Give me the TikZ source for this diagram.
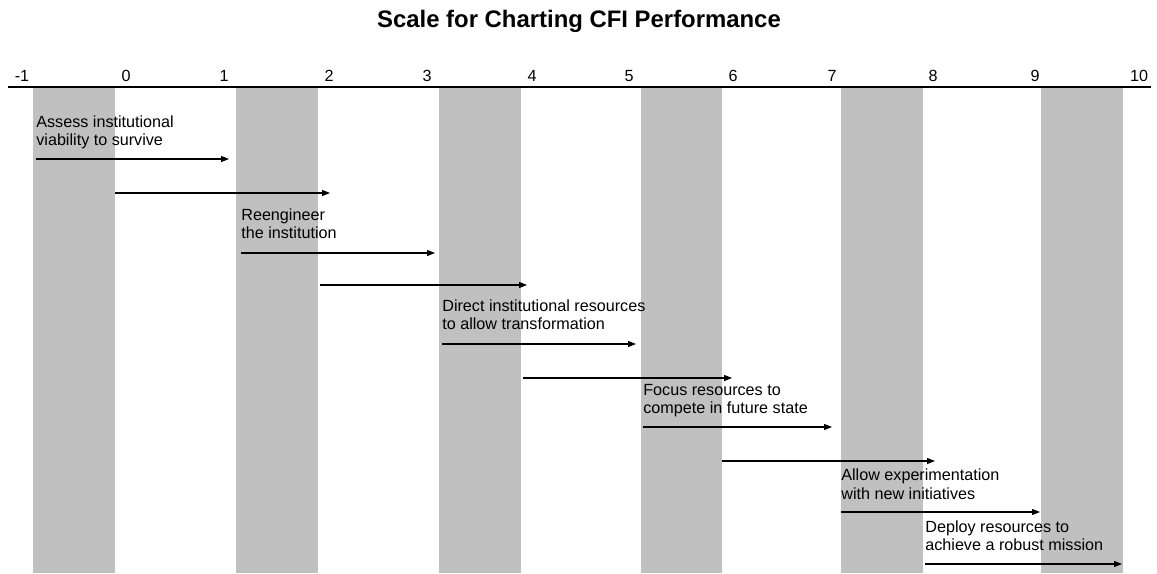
\documentclass[tikz,border=0pt]{standalone}
\usepackage{fontspec}
\setmainfont{Liberation Sans}
\usetikzlibrary{positioning,arrows.meta}
\definecolor{barfill}{HTML}{C0C0C0}

\begin{document}
\begin{tikzpicture}[
    x=0.02cm, y=-0.02cm,
    bar/.style={fill=barfill, draw=none},
    axis/.style={line width=1.1pt},
    tick/.style={font=\fontsize{9.2}{11}\selectfont, anchor=base, inner sep=0pt},
    stage/.style={font=\fontsize{9.2}{10.6}\selectfont, align=left, inner sep=0pt, text depth=0pt},
    arrow/.style={-{Triangle[length=0.16cm, width=0.12cm]}, line width=0.6pt},
    title/.style={font=\fontsize{13.6}{16}\selectfont\bfseries, anchor=base, inner sep=0pt}
]

\useasboundingbox (0,0) rectangle (1157,574);

% Title
\node[title] (title) at (579,28) {Scale for Charting CFI Performance};

% Gray bands
\foreach \xl/\xr in {33/115, 236/318, 439/521, 641/722, 841/923, 1041/1123}
  \fill[bar] (\xl,88) rectangle (\xr,573);

% Scale line
\coordinate (axisL) at (8,87);
\coordinate (axisR) at (1151,87);
\draw[axis] (axisL) -- (axisR);

% Scale values
\foreach \n/\x [count=\i] in {-1/22, 0/126, 1/224, 2/329, 3/427, 4/532, 5/629, 6/733, 7/832, 8/933, 9/1035, 10/1139}
  \node[tick] (tick\i) at (\x,82) {\n};

% Stage arrows
\foreach \i/\y/\xs/\xe in {1/159/36/229, 2/193/115/330, 3/253/241/435, 4/285/320/527,
    5/344/442/636, 6/378/523/732, 7/427/643/832, 8/461/722/935,
    9/512/841/1040, 10/564/925/1122}{
  \coordinate (s\i) at (\xs,\y);
  \coordinate (e\i) at (\xe,\y);
  \draw[arrow] (s\i) -- (e\i);
}

% Stage labels
\node[stage, above right=0.26cm and 0cm of s1] (assess) {Assess institutional\\viability to survive};
\node[stage, above right=0.28cm and 0cm of s3] (reengineer) {Reengineer\\the institution};
\node[stage, above right=0.28cm and 0cm of s5] (direct) {Direct institutional resources\\to allow transformation};
\node[stage, above right=0.26cm and 0cm of s7] (focus) {Focus resources to\\compete in future state};
\node[stage, above right=0.25cm and 0cm of s9] (allow) {Allow experimentation\\with new initiatives};
\node[stage, above right=0.26cm and 0cm of s10] (deploy) {Deploy resources to\\achieve a robust mission};

\end{tikzpicture}
\end{document}
